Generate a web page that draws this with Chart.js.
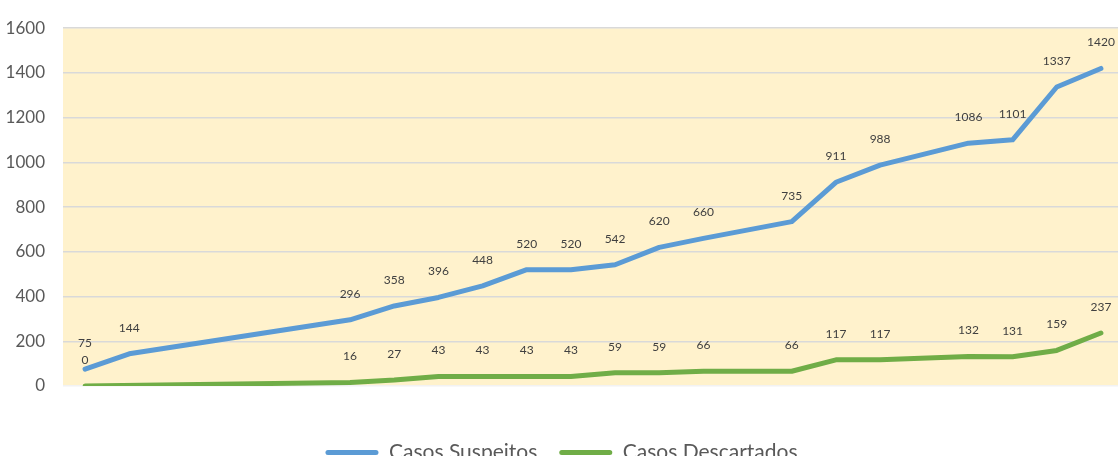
<!DOCTYPE html>
<html>
<head>
<meta charset="utf-8">
<script src="https://cdn.jsdelivr.net/npm/chart.js@4"></script>
<style>
  html, body { margin: 0; padding: 0; background: #fff; overflow: hidden; }
  #wrap { width: 1124px; height: 473px; }
</style>
</head>
<body>
<div id="wrap"><canvas id="grafico"></canvas></div>
<script>
// dias do boletim (eixo x não mostra rótulo no original)
const dias = ["1", "2", "3", "4", "5", "6", "7", "8", "9", "10", "11", "12",
  "13", "14", "15", "16", "17", "18", "19", "20", "21", "22", "23", "24"];

// null = dia sem boletim, a linha liga direto (spanGaps)
const casosSuspeitos = [75, 144, null, null, null, null, 296, 358, 396, 448, 520, 520,
  542, 620, 660, null, 735, 911, 988, null, 1086, 1101, 1337, 1420];
const casosDescartados = [0, null, null, null, null, null, 16, 27, 43, 43, 43, 43,
  59, 59, 66, null, 66, 117, 117, null, 132, 131, 159, 237];

const ticksY = [0, 200, 400, 600, 800, 1000, 1200, 1400, 1600];

const fonte = "Lato, 'Open Sans', sans-serif";

// fundo amarelo só na área do gráfico
const fundoArea = {
  id: "fundoArea",
  beforeDraw(chart) {
    const { ctx, chartArea } = chart;
    ctx.save();
    ctx.fillStyle = "#FFF2CC";
    ctx.fillRect(chartArea.left, chartArea.top, chartArea.right - chartArea.left, chartArea.bottom - chartArea.top);
    ctx.restore();
  },
};

// rótulos dos valores acima de cada ponto
const rotulos = {
  id: "rotulos",
  afterDatasetsDraw(chart) {
    const ctx = chart.ctx;
    ctx.save();
    ctx.font = "12px " + fonte;
    ctx.fillStyle = "#404040";
    ctx.textAlign = "center";
    ctx.textBaseline = "middle";
    chart.data.datasets.forEach((ds, i) => {
      const meta = chart.getDatasetMeta(i);
      meta.data.forEach((pt, j) => {
        const v = ds.data[j];
        if (v === null || v === undefined) return;
        ctx.fillText(String(v), pt.x, pt.y - 26);
      });
    });
    ctx.restore();
  },
};

const chart = new Chart(document.getElementById("grafico"), {
  type: "line",
  data: {
    labels: dias,
    datasets: [
      {
        label: "Casos Suspeitos",
        data: casosSuspeitos,
        borderColor: "#5B9BD5",
        backgroundColor: "#5B9BD5",
        borderWidth: 5,
        pointRadius: 0,
        tension: 0,
        spanGaps: true,
        borderCapStyle: "round",
        borderJoinStyle: "round",
      },
      {
        label: "Casos Descartados",
        data: casosDescartados,
        borderColor: "#70AD47",
        backgroundColor: "#70AD47",
        borderWidth: 5,
        pointRadius: 0,
        tension: 0,
        spanGaps: true,
        borderCapStyle: "round",
        borderJoinStyle: "round",
      },
    ],
  },
  options: {
    responsive: true,
    maintainAspectRatio: false,
    animation: false,
    layout: { padding: { top: 28, right: 1, left: 0, bottom: 0 } },
    plugins: {
      tooltip: { enabled: false },
      legend: {
        position: "bottom",
        labels: {
          font: { family: fonte, size: 21 },
          color: "#595959",
          boxWidth: 53,
          boxHeight: 5,
          padding: 22,
          useBorderRadius: true,
          borderRadius: 2.5,
          generateLabels(chart) {
            return Chart.defaults.plugins.legend.labels.generateLabels(chart).map((l) => ({ ...l, lineWidth: 0 }));
          },
        },
      },
    },
    scales: {
      x: {
        offset: true,
        grid: { display: false },
        border: { display: false },
        ticks: { display: false },
        afterFit(scale) { scale.height = 34; },
      },
      y: {
        min: 0,
        max: 1600,
        afterBuildTicks(scale) { scale.ticks = ticksY.map((v) => ({ value: v })); },
        afterFit(scale) { scale.width = 63; },
        border: { display: false },
        grid: {
          color: (c) => (c.tick && c.tick.value === 0 ? "#F2F2F2" : "#D9D9D9"),
          lineWidth: 1.5,
          drawTicks: false,
        },
        ticks: {
          font: { family: fonte, size: 17 },
          color: "#595959",
          padding: 18,
          callback: (v) => String(v),
        },
      },
    },
  },
  plugins: [fundoArea, rotulos],
});
</script>
</body>
</html>
